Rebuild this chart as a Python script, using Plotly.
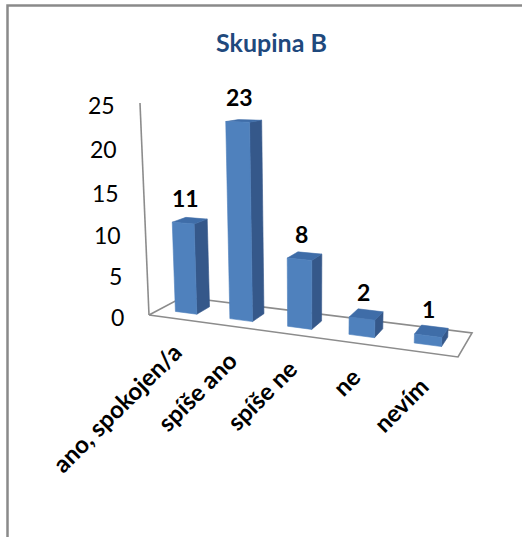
import plotly.graph_objects as go

# --- data -------------------------------------------------------------
categories = ["ano, spokojen/a", "spíše ano", "spíše ne", "ne", "nevím"]
counts = [11, 23, 8, 2, 1]
value_ticks = [0, 5, 10, 15, 20, 25]
title_text = "Skupina B"

# --- perspective view of the 3D column chart ---------------------------
# World axes: X runs along the categories (0..5), Y is depth (0 front, 1 back),
# Z is the value.  Each axis has a vanishing point on the view plane; the
# plane itself is drawn on a pixel-sized cartesian axis pair.
ORIGIN = (149.0, 315.0)
VP_X, SX = (-1683.0, 66.0), -0.028866
VP_Y, SY = (631.0, 59.0), 0.0755
VP_Z, SZ = (308.0, 4056.0), -0.002145

W, H = 522, 537
BAR_W = 0.4          # column width in category units
D0, D1 = 0.3, 0.7    # column depth span


def project(x, y, z):
    hx = ORIGIN[0] + x * SX * VP_X[0] + y * SY * VP_Y[0] + z * SZ * VP_Z[0]
    hy = ORIGIN[1] + x * SX * VP_X[1] + y * SY * VP_Y[1] + z * SZ * VP_Z[1]
    w = 1 + x * SX + y * SY + z * SZ
    return hx / w, hy / w


def poly(points):
    pts = [project(*p) for p in points]
    pts.append(pts[0])
    return [p[0] for p in pts], [p[1] for p in pts]


FRONT = "#4F81BD"
TOP = "#3F6DA8"
SIDE = "#35588A"
GRID = "#8C8C8C"
FONT = "Lato"

fig = go.Figure()

n = len(categories)

# floor outline
fx, fy = poly([(0, 0, 0), (n, 0, 0), (n, 1, 0), (0, 1, 0)])
fig.add_trace(go.Scatter(x=fx, y=fy, mode="lines",
                         line=dict(color=GRID, width=1.6),
                         hoverinfo="skip", showlegend=False))

# value axis edge
vx0, vy0 = project(0, 0, 0)
vx1, vy1 = project(0, 0, max(value_ticks))
fig.add_trace(go.Scatter(x=[vx0, vx1], y=[vy0, vy1], mode="lines",
                         line=dict(color=GRID, width=1.6),
                         hoverinfo="skip", showlegend=False))


def face(points, color):
    xs, ys = poly(points)
    fig.add_trace(go.Scatter(x=xs, y=ys, mode="lines", fill="toself",
                             fillcolor=color, line=dict(color=color, width=0.6),
                             hoverinfo="skip", showlegend=False))


for i, v in enumerate(counts):
    xl = i + 0.5 - BAR_W / 2
    xr = i + 0.5 + BAR_W / 2
    # right side
    face([(xr, D0, 0), (xr, D1, 0), (xr, D1, v), (xr, D0, v)], SIDE)
    # top
    face([(xl, D0, v), (xr, D0, v), (xr, D1, v), (xl, D1, v)], TOP)
    # front
    face([(xl, D0, 0), (xr, D0, 0), (xr, D0, v), (xl, D0, v)], FRONT)

annotations = []

# value labels on the axis edge
for t in value_ticks:
    px, py = project(0, 0, t)
    annotations.append(dict(x=px - 23, y=py + 2, xref="x", yref="y",
                            text=str(t), showarrow=False,
                            xanchor="right", yanchor="middle",
                            font=dict(family=FONT, size=23, color="#000000")))

# data labels above each column
for i, v in enumerate(counts):
    px, py = project(i + 0.5, 0.4, v)
    annotations.append(dict(x=px - 1, y=py - 24, xref="x", yref="y",
                            text="<b>%d</b>" % v, showarrow=False,
                            xanchor="center", yanchor="middle",
                            font=dict(family=FONT, size=23, color="#000000")))

# category labels, rotated
for i, c in enumerate(categories):
    px, py = project(i + 0.5, 0, 0)
    annotations.append(dict(x=px + 14, y=py + 16, xref="x", yref="y",
                            text="<b>%s</b>" % c, showarrow=False,
                            textangle=-45, xanchor="right", yanchor="top",
                            font=dict(family=FONT, size=24, color="#000000")))

# title
annotations.append(dict(x=271.5, y=42, xref="x", yref="y",
                        text="<b>%s</b>" % title_text, showarrow=False,
                        xanchor="center", yanchor="middle",
                        font=dict(family=FONT, size=25, color="#1F497D")))

fig.update_layout(
    width=W, height=H,
    margin=dict(l=0, r=0, t=0, b=0),
    paper_bgcolor="white", plot_bgcolor="white",
    xaxis=dict(range=[0, W], visible=False, fixedrange=True, domain=[0, 1]),
    yaxis=dict(range=[H, 0], visible=False, fixedrange=True, domain=[0, 1]),
    annotations=annotations,
    shapes=[dict(type="rect", xref="x", yref="y",
                 x0=7.5, y0=5.5, x1=W + 20, y1=H + 20,
                 line=dict(color="#8A8A8A", width=2.5), layer="below")],
    showlegend=False,
)

fig.write_html("out.html")
